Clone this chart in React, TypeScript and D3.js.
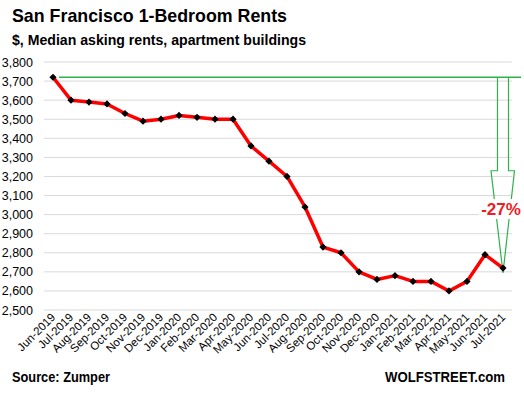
import React from "react";
import * as d3 from "d3";

// months on the x axis
const months = [
  "Jun-2019", "Jul-2019", "Aug-2019", "Sep-2019", "Oct-2019", "Nov-2019", "Dec-2019",
  "Jan-2020", "Feb-2020", "Mar-2020", "Apr-2020", "May-2020", "Jun-2020", "Jul-2020",
  "Aug-2020", "Sep-2020", "Oct-2020", "Nov-2020", "Dec-2020", "Jan-2021", "Feb-2021",
  "Mar-2021", "Apr-2021", "May-2021", "Jun-2021", "Jul-2021",
];
// median asking rent, $
const rents = [
  3720, 3600, 3590, 3580, 3530, 3490, 3500, 3520, 3510, 3500, 3500, 3360, 3280, 3200,
  3040, 2830, 2800, 2700, 2660, 2680, 2650, 2650, 2600, 2650, 2790, 2720,
];
const yTicks = [2500, 2600, 2700, 2800, 2900, 3000, 3100, 3200, 3300, 3400, 3500, 3600, 3700, 3800];

const W = 524;
const H = 394;
const font = "Liberation Sans, Arial, sans-serif";
const green = "#2db34a";

export default function App() {
  const x = d3.scalePoint<string>().domain(months).range([44, 512]).padding(0.5);
  const y = d3.scaleLinear().domain([2500, 3800]).range([310, 62]);
  const data = months.map((m, i) => ({ m, v: rents[i] }));

  const line = d3.line<{ m: string; v: number }>()
    .x(d => x(d.m) as number)
    .y(d => y(d.v));
  // square turned 45 degrees, like Excel's diamond marker
  const marker = d3.symbol().type(d3.symbolSquare).size(26)();

  // annotation arrow from the starting level down to the last value
  const first = x(months[0]) as number;
  const last = x(months[months.length - 1]) as number;
  const top = y(rents[0]);
  const headY = y(3230);
  const tipY = y(rents[rents.length - 1]) + 5;
  const arrow = d3.path();
  arrow.moveTo(last - 5.5, top);
  arrow.lineTo(last - 5.5, headY);
  arrow.lineTo(last - 12, headY);
  arrow.lineTo(last, tipY);
  arrow.lineTo(last + 11.5, headY);
  arrow.lineTo(last + 5.5, headY);
  arrow.lineTo(last + 5.5, top);

  return (
    <svg width={W} height={H} style={{ position: "absolute", left: 0, top: 0, background: "#fff" }}>
      <text x={12} y={22} fontFamily={font} fontWeight="bold" fontSize={19}
        textLength={275} lengthAdjust="spacingAndGlyphs">San Francisco 1-Bedroom Rents</text>
      <text x={12} y={45} fontFamily={font} fontWeight="bold" fontSize={15}
        textLength={294} lengthAdjust="spacingAndGlyphs">$, Median asking rents, apartment buildings</text>

      {yTicks.map(t => (
        <g key={t}>
          <line x1={44} x2={512} y1={y(t)} y2={y(t)} stroke="#d9d9d9" strokeWidth={1} />
          <text x={33} y={y(t) + 4.5} textAnchor="end" fontFamily={font} fontSize={12.5}>
            {d3.format(",")(t)}
          </text>
        </g>
      ))}

      {months.map(m => (
        <text key={m} fontFamily={font} fontSize={11.5} textAnchor="end"
          transform={`translate(${(x(m) as number) + 3},${318}) rotate(-45)`}>
          {m}
        </text>
      ))}

      {/* green level line and arrow */}
      <line x1={first + 6} x2={last + 18} y1={top} y2={top} stroke={green} strokeWidth={1.3} />
      <path d={arrow.toString()} fill="none" stroke={green} strokeWidth={1.2} />

      <path d={line(data) as string} fill="none" stroke="#ff0000" strokeWidth={3.5} strokeLinejoin="round" />
      {data.map(d => (
        <path key={d.m} d={marker as string} fill="#000"
          transform={`translate(${x(d.m)},${y(d.v)}) rotate(45)`} />
      ))}

      <rect x={479} y={199} width={43} height={20} fill="#fff" />
      <text x={last - 2} y={215} textAnchor="middle" fontFamily={font} fontWeight="bold"
        fontSize={17} fill="#ee1c25">-27%</text>

      <text x={12} y={382} fontFamily={font} fontWeight="bold" fontSize={14}
        textLength={98} lengthAdjust="spacingAndGlyphs">Source: Zumper</text>
      <text x={385} y={382} fontFamily={font} fontWeight="bold" fontSize={14}
        textLength={120} lengthAdjust="spacingAndGlyphs">WOLFSTREET.com</text>
    </svg>
  );
}
